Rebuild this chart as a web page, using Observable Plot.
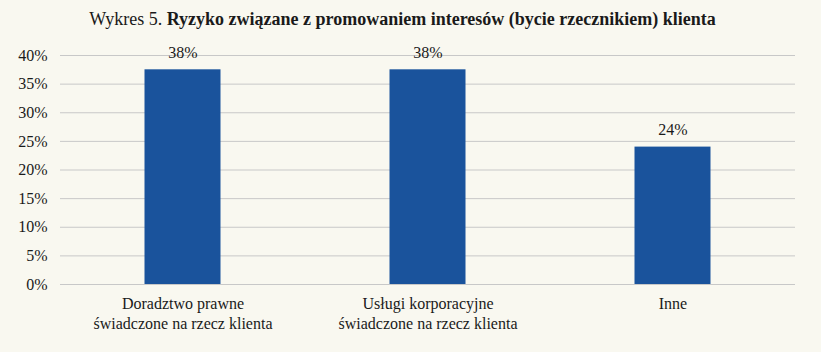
<!DOCTYPE html>
<html>
<head>
<meta charset="utf-8">
<script src="https://cdn.jsdelivr.net/npm/d3@7"></script>
<script src="https://cdn.jsdelivr.net/npm/@observablehq/plot@0.6"></script>
<style>
  html, body { margin: 0; padding: 0; background: #f9f8f0; }
  #title { height: 36px; line-height: 38px; font-family: "Liberation Serif", "Times New Roman", serif; font-size: 18px; color: #1a1a1a; text-align: center; padding-right: 16px; white-space: nowrap; }
  #chart svg { display: block; }
  #chart svg, #chart svg text { font-family: "Liberation Serif", "Times New Roman", serif !important; }
</style>
</head>
<body>
<div id="title">Wykres 5. <b>Ryzyko związane z promowaniem interesów (bycie rzecznikiem) klienta</b></div>
<div id="chart"></div>
<script>
const categories = [
  "Doradztwo prawne\nświadczone na rzecz klienta",
  "Usługi korporacyjne\nświadczone na rzecz klienta",
  "Inne"
];
const values = [0.375, 0.375, 0.24];
const yTicks = [0, 0.05, 0.10, 0.15, 0.20, 0.25, 0.30, 0.35, 0.40];

const data = categories.map((c, i) => ({category: c, value: values[i]}));
const pct = v => Math.round(v * 100) + "%";

const chart = Plot.plot({
  width: 821,
  height: 316,
  marginTop: 19,
  marginBottom: 68,
  marginLeft: 60,
  marginRight: 26,
  style: {background: "transparent", fontFamily: "'Liberation Serif', serif", fontSize: "16px", color: "#1a1a1a"},
  x: {domain: categories, padding: 0},
  y: {domain: [0, 0.40]},
  marks: [
    Plot.gridY(yTicks, {stroke: "#c8c8c8", strokeOpacity: 1, strokeWidth: 1}),
    Plot.barY(data, {x: "category", y: "value", fill: "#1a539c", insetLeft: 84.5, insetRight: 84.5}),
    Plot.text(data, {x: "category", y: "value", text: d => pct(d.value), dy: -17, fontSize: 16, fill: "#1a1a1a"}),
    Plot.axisY({ticks: yTicks, tickFormat: d => Math.round(d * 100) + "%", tickSize: 0, tickPadding: 13, label: null, fontSize: 16, fill: "#1a1a1a"}),
    Plot.axisX({tickSize: 0, tickPadding: 10, label: null, fontSize: 16, lineHeight: 1.25, fill: "#1a1a1a", textAnchor: "middle"})
  ]
});
document.getElementById("chart").append(chart);
</script>
</body>
</html>
